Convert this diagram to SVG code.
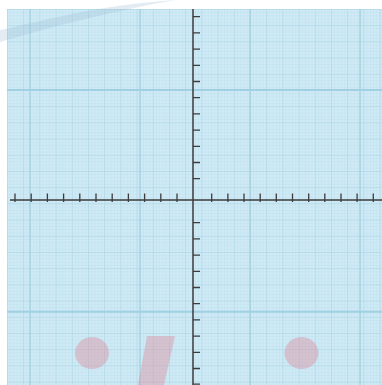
<svg xmlns="http://www.w3.org/2000/svg" width="382" height="385" viewBox="0 0 382 385">
<defs>
<pattern id="fine" x="7" y="9" width="3.24" height="3.24" patternUnits="userSpaceOnUse">
<path d="M0,0H3.24M0,0V3.24" stroke="#b6dcea" stroke-width="0.6" fill="none"/>
</pattern>
<pattern id="mid" x="7" y="9" width="16.2" height="16.2" patternUnits="userSpaceOnUse">
<path d="M0,0H16.2M0,0V16.2" stroke="#aad4e4" stroke-width="1" fill="none"/>
</pattern>
<style>
.axis{stroke:#3d3d3d;stroke-width:1.5;fill:none}
.tick{stroke:#3d3d3d;stroke-width:1.3;fill:none}
.major{stroke:#a0d0e1;fill:none}
.pink{fill:#dd8a9c;opacity:0.42}
</style>
</defs>
<rect x="0" y="0" width="382" height="385" fill="#ffffff"/>
<g id="paper">
<rect x="7" y="9" width="375" height="376" fill="#cfeaf5"/>
<rect x="7" y="9" width="375" height="376" fill="url(#fine)"/>
<rect x="7" y="9" width="375" height="376" fill="url(#mid)"/>
<path class="major" stroke-width="2" d="M7,90H382M7,311.7H382"/>
<path class="major" stroke-width="1.3" d="M30,9V385M140,9V385M250,9V385M360,9V385"/>
</g>
<path id="swoosh" d="M0,30 C40,22 90,6 175,0 L170,1 C120,10 60,24 0,42 Z" fill="#9bbcd0" opacity="0.28"/>
<g id="marks">
<ellipse class="pink" cx="92" cy="353" rx="17" ry="16"/>
<ellipse class="pink" cx="301.5" cy="353" rx="17" ry="16"/>
<polygon class="pink" points="147,336 175,336 164,385 138,385"/>
</g>
<g id="axes">
<path class="axis" d="M193,9V385M10,200H382"/>
<path class="tick" d="M15,193.5V202M31.2,193.5V202M47.4,193.5V202M63.6,193.5V202M79.8,193.5V202M96,193.5V202M112.2,193.5V202M128.4,193.5V202M144.6,193.5V202M160.8,193.5V202M177,193.5V202M211.7,193.5V202M227.9,193.5V202M244,193.5V202M260.2,193.5V202M276.3,193.5V202M292.5,193.5V202M308.7,193.5V202M324.8,193.5V202M341,193.5V202M357.1,193.5V202M373.3,193.5V202"/>
<path class="tick" d="M193,16.7H200M193,32.9H200M193,49.1H200M193,65.3H200M193,81.5H200M193,97.7H200M193,113.9H200M193,130.1H200M193,146.3H200M193,162.5H200M193,178.7H200M193,222.7H200M193,238.9H200M193,255.1H200M193,271.3H200M193,287.5H200M193,303.7H200M193,319.9H200M193,336.1H200M193,352.3H200M193,368.5H200M193,384.2H200"/>
</g>
</svg>
